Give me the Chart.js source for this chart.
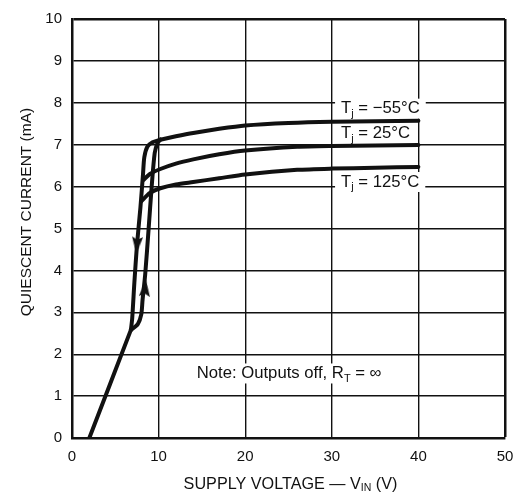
<!DOCTYPE html>
<html>
<head>
<meta charset="utf-8">
<script src="https://cdn.jsdelivr.net/npm/chart.js@4.4.1/dist/chart.umd.min.js"></script>
<style>
html, body { margin: 0; padding: 0; background: #fff; }
</style>
</head>
<body>
<canvas id="chart" width="514" height="495"></canvas>
<script>
// axis ticks
const xTicks = [0, 10, 20, 30, 40, 50];
const yTicks = [0, 1, 2, 3, 4, 5, 6, 7, 8, 9, 10];

// start-up line (below the loop)
const baseX = [2, 6.8];
const baseY = [0, 2.58];

// rising branch of the loop (arrow up)
const upX = [6.8, 7.6, 8.0, 8.15, 8.45, 8.85, 9.2, 9.55, 9.9, 10.2];
const upY = [2.58, 2.72, 2.95, 3.3, 3.9, 5.0, 6.0, 6.8, 7.05, 7.12];

// falling branch of the loop (arrow down)
const downX = [10.2, 9.3, 8.7, 8.35, 8.2, 7.9, 7.5, 7.2, 6.95, 6.8];
const downY = [7.12, 7.06, 6.95, 6.7, 6.3, 5.5, 4.6, 3.7, 2.85, 2.58];

// Tj = -55°C
const coldX = [10.2, 12, 14, 17, 20, 25, 30, 35, 40];
const coldY = [7.12, 7.2, 7.28, 7.38, 7.46, 7.52, 7.55, 7.56, 7.57];

// Tj = 25°C
const roomX = [8.2, 9, 10.2, 12, 14, 17, 20, 26, 30, 35, 40];
const roomY = [6.15, 6.3, 6.42, 6.55, 6.65, 6.77, 6.86, 6.95, 6.97, 6.98, 6.99];

// Tj = 125°C
const hotX = [8.0, 9, 10.2, 12, 14, 17, 20, 26, 30, 35, 40];
const hotY = [5.65, 5.85, 5.96, 6.05, 6.11, 6.2, 6.29, 6.4, 6.43, 6.45, 6.47];

// direction arrows on the loop
const arrowX = [7.5, 8.45];
const arrowY = [4.6, 3.58];
const arrowAngle = [184, 5];

const pts = (xs, ys) => xs.map((x, i) => ({ x: x, y: ys[i] }));

const INK = '#111';
const FONT = '"Liberation Sans", Arial, Helvetica, sans-serif';

// narrow arrow head used as point style
const arrowImg = document.createElement('canvas');
arrowImg.width = 11;
arrowImg.height = 17;
(function () {
    const c = arrowImg.getContext('2d');
    c.fillStyle = INK;
    c.beginPath();
    c.moveTo(5.5, 0);
    c.lineTo(11, 17);
    c.lineTo(5.5, 14);
    c.lineTo(0, 17);
    c.closePath();
    c.fill();
})();

// text with subscripts: parts = [[text, isSub], ...]
function measureParts(ctx, parts, size, subSize) {
    let w = 0;
    parts.forEach(p => {
        ctx.font = (p[1] ? subSize : size) + 'px ' + FONT;
        w += ctx.measureText(p[0]).width;
    });
    return w;
}

function drawParts(ctx, parts, x, y, size, subSize, subDrop) {
    ctx.textBaseline = 'middle';
    ctx.textAlign = 'left';
    parts.forEach(p => {
        ctx.font = (p[1] ? subSize : size) + 'px ' + FONT;
        ctx.fillText(p[0], x, p[1] ? y + subDrop : y);
        x += ctx.measureText(p[0]).width;
    });
}

const notes = [
    { parts: [['T', 0], ['j', 1], [' = \u221255\u00b0C', 0]], x: 31.07, y: 7.86 },
    { parts: [['T', 0], ['j', 1], [' = 25\u00b0C', 0]], x: 31.07, y: 7.26 },
    { parts: [['T', 0], ['j', 1], [' = 125\u00b0C', 0]], x: 31.07, y: 6.11 },
    { parts: [['Note: Outputs off, R', 0], ['T', 1], [' = \u221e', 0]], x: 14.4, y: 1.54 }
];

const textPlugin = {
    id: 'texts',
    beforeDatasetsDraw(chart) {
        const ctx = chart.ctx;
        const xs = chart.scales.x, ys = chart.scales.y;
        ctx.save();
        notes.forEach(n => {
            const px = xs.getPixelForValue(n.x);
            const py = ys.getPixelForValue(n.y);
            const w = measureParts(ctx, n.parts, 16.7, 11);
            ctx.fillStyle = '#fff';
            ctx.fillRect(px - 6, py - 10, w + 12, 20);
            ctx.fillStyle = INK;
            drawParts(ctx, n.parts, px, py, 16.7, 11, 5);
        });
        ctx.restore();
    },
    afterDraw(chart) {
        const ctx = chart.ctx;
        const a = chart.chartArea;
        ctx.save();
        ctx.fillStyle = INK;
        // x axis title
        const xt = [['SUPPLY VOLTAGE \u2014 V', 0], ['IN', 1], [' (V)', 0]];
        const w = measureParts(ctx, xt, 16.2, 10.5);
        drawParts(ctx, xt, (a.left + a.right) / 2 - w / 2 + 2, 485, 16.2, 10.5, 3);
        // y axis title
        ctx.translate(27, 212);
        ctx.rotate(-Math.PI / 2);
        ctx.font = '15.5px ' + FONT;
        ctx.textAlign = 'center';
        ctx.textBaseline = 'middle';
        ctx.fillText('QUIESCENT CURRENT (mA)', 0, 0);
        ctx.restore();
    }
};

const curve = (data) => ({
    type: 'line',
    data: data,
    borderColor: INK,
    borderWidth: 4,
    pointRadius: 0,
    tension: 0.25,
    fill: false,
    borderCapStyle: 'round',
    borderJoinStyle: 'round'
});

new Chart(document.getElementById('chart'), {
    type: 'line',
    data: {
        datasets: [
            curve(pts(baseX, baseY)),
            curve(pts(upX, upY)),
            curve(pts(downX, downY)),
            curve(pts(coldX, coldY)),
            curve(pts(roomX, roomY)),
            curve(pts(hotX, hotY)),
            {
                type: 'scatter',
                data: pts(arrowX, arrowY),
                pointStyle: arrowImg,
                rotation: arrowAngle,
                pointRadius: 8,
                showLine: false
            }
        ]
    },
    options: {
        responsive: false,
        animation: false,
        events: [],
        layout: { padding: { left: 0, right: 8, top: 16, bottom: 0 } },
        plugins: {
            legend: { display: false },
            tooltip: { enabled: false }
        },
        scales: {
            x: {
                type: 'linear',
                min: 0,
                max: 50,
                afterBuildTicks: s => { s.ticks = xTicks.map(v => ({ value: v })); },
                afterFit: s => { s.height = 57; s.paddingRight = 0; s.paddingLeft = 0; },
                grid: {
                    color: INK,
                    lineWidth: c => (c.tick && c.tick.value === 50 ? 2.5 : 1.4),
                    drawTicks: false
                },
                border: { color: INK, width: 2.5 },
                ticks: { color: INK, padding: 10, font: { family: FONT, size: 15 }, maxRotation: 0 }
            },
            y: {
                type: 'linear',
                min: 0,
                max: 10,
                afterBuildTicks: s => { s.ticks = yTicks.map(v => ({ value: v })); },
                afterFit: s => { s.width = 72; },
                grid: {
                    color: INK,
                    lineWidth: c => (c.tick && c.tick.value === 10 ? 2.5 : 1.4),
                    drawTicks: false
                },
                border: { color: INK, width: 2.5 },
                ticks: { color: INK, padding: 10, font: { family: FONT, size: 15 } }
            }
        }
    },
    plugins: [textPlugin]
});
</script>
</body>
</html>
